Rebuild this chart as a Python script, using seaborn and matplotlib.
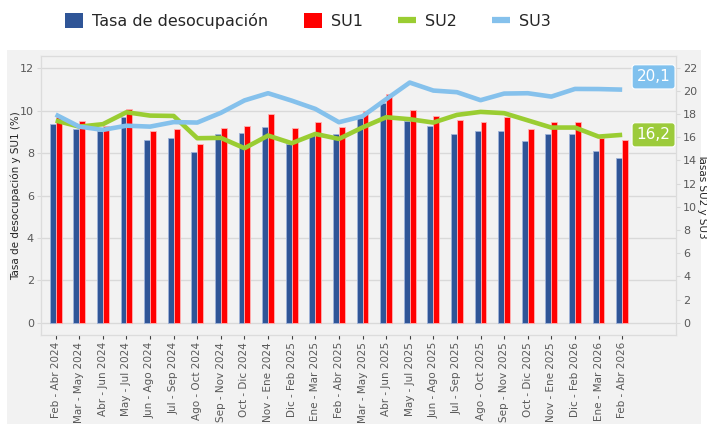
import numpy as np
import pandas as pd
import matplotlib
matplotlib.use("Agg")
import matplotlib.pyplot as plt
import seaborn as sns
from matplotlib.patches import Rectangle, Patch
from matplotlib.lines import Line2D

categories = ["Feb - Abr 2024", "Mar - May 2024", "Abr - Jun 2024", "May - Jul 2024",
              "Jun - Ago 2024", "Jul - Sep 2024", "Ago - Oct 2024", "Sep - Nov 2024",
              "Oct - Dic 2024", "Nov - Ene 2024", "Dic - Feb 2025", "Ene - Mar 2025",
              "Feb - Abr 2025", "Mar - May 2025", "Abr - Jun 2025", "May - Jul 2025",
              "Jun - Ago 2025", "Jul - Sep 2025", "Ago - Oct 2025", "Sep - Nov 2025",
              "Oct - Dic 2025", "Nov - Ene 2025", "Dic - Feb 2026", "Ene - Mar 2026",
              "Feb - Abr 2026"]
tasa = [9.36, 9.16, 9.04, 9.71, 8.62, 8.72, 8.03, 8.89, 8.94, 9.24, 8.45, 8.85, 8.92,
        9.65, 10.34, 9.52, 9.28, 8.91, 9.03, 9.05, 8.56, 8.88, 8.88, 8.09, 7.78]
su1 = [9.70, 9.50, 9.30, 10.07, 9.05, 9.13, 8.41, 9.19, 9.28, 9.85, 9.18, 9.46, 9.21,
       9.98, 10.79, 10.05, 9.74, 9.54, 9.49, 9.69, 9.16, 9.49, 9.47, 8.69, 8.60]
su2 = [17.43, 16.91, 17.12, 18.15, 17.86, 17.83, 15.91, 15.94, 15.05, 16.14, 15.48, 16.28,
       15.85, 16.84, 17.72, 17.55, 17.26, 17.92, 18.18, 18.07, 17.45, 16.83, 16.83, 16.05, 16.2]
su3 = [17.95, 16.91, 16.63, 16.99, 16.91, 17.30, 17.26, 18.10, 19.17, 19.79, 19.15, 18.44,
       17.29, 17.80, 19.27, 20.71, 20.02, 19.88, 19.19, 19.76, 19.79, 19.50, 20.16, 20.15, 20.1]
series_names = ["Tasa de desocupación", "SU1", "SU2", "SU3"]

C_TASA, C_SU1, C_SU2, C_SU3 = "#2f5597", "#ff0000", "#9acd32", "#85c1ec"
GRAY = "#595959"

sns.set_style("white")
plt.rcParams['font.family'] = ['DejaVu Sans']

n = len(categories)
fig = plt.figure(figsize=(7.07, 4.24), dpi=100)
fig.patch.set_facecolor('white')
bg = Rectangle((7/707, 0), (701-7)/707, (424-50)/424, transform=fig.transFigure,
               facecolor='#f2f2f2', edgecolor='none', zorder=-10)
fig.patches.append(bg)

ax = fig.add_axes([41/707, 89/424, (676-41)/707, (335-56)/424])
ax.set_facecolor('#f2f2f2')

df = pd.DataFrame({'cat': categories * 2, 'val': tasa + su1,
                   'serie': [series_names[0]] * n + [series_names[1]] * n})
sns.barplot(data=df, x='cat', y='val', hue='serie', order=categories,
            palette={series_names[0]: C_TASA, series_names[1]: C_SU1},
            width=0.5, saturation=1, errorbar=None, legend=False, ax=ax)
for p in ax.patches:
    fc = p.get_facecolor()
    if fc[0] > 0.9:
        p.set_edgecolor('#ffb3b3')
    else:
        p.set_edgecolor('#9fb3d9')
    p.set_linewidth(0.6)

ax.set_xlim(-0.62, 26.28)
ax.set_ylim(-0.58, 12.58)
ax.set_yticks(range(0, 13, 2))
ax.yaxis.grid(True, color='#d9d9d9', lw=1)
ax.xaxis.grid(False)
ax.set_axisbelow(True)
ax.set_xticks(range(n))
ax.set_xticklabels(categories, rotation=90, fontsize=7.5, color=GRAY)
ax.set_xlabel('')
ax.set_ylabel('Tasa de desocupación y SU1 (%)', fontsize=7.5, color='#262626')
ax.yaxis.set_label_coords((21 - 41) / 635, 0.5)
ax.tick_params(axis='y', labelsize=8, labelcolor=GRAY, length=3, color='#d9d9d9', pad=2, left=True)
ax.tick_params(axis='x', length=3, color='#404040', width=0.8, pad=2, bottom=True)
for s in ax.spines.values():
    s.set_color('#dcdcdc')
    s.set_linewidth(0.8)

ax2 = ax.twinx()
sns.lineplot(x=np.arange(n), y=su2, ax=ax2, color=C_SU2, lw=3.3, solid_capstyle='butt')
sns.lineplot(x=np.arange(n), y=su3, ax=ax2, color=C_SU3, lw=3.3, solid_capstyle='butt')
ax2.set_ylim(-1.06, 23.0)
ax2.set_yticks(range(0, 23, 2))
ax2.grid(False)
ax2.tick_params(axis='y', labelsize=8, labelcolor=GRAY, length=3, color='#d9d9d9', pad=2, right=True)
ax2.set_ylabel('Tasas SU2 y SU3', fontsize=7.5, color='#262626', rotation=270)
ax2.yaxis.label.set_verticalalignment('bottom')
ax2.yaxis.set_label_coords((697 - 41) / 635, 0.5)
for s in ax2.spines.values():
    s.set_color('#dcdcdc')
    s.set_linewidth(0.8)
ax2.set_xlim(-0.62, 26.28)

def fmt(v):
    return f"{v:.1f}".replace('.', ',')

ax2.text(25.33, 21.2, fmt(su3[-1]), ha='center', va='center', color='white', fontsize=11,
         bbox=dict(boxstyle='round,pad=0.3,rounding_size=0.2', fc='#80c1ee', ec='white', lw=0.8))
ax2.text(25.33, su2[-1], fmt(su2[-1]), ha='center', va='center', color='white', fontsize=11,
         bbox=dict(boxstyle='round,pad=0.3,rounding_size=0.2', fc='#9ccb3b', ec='white', lw=0.8))

handles = [Patch(facecolor=C_TASA, edgecolor='none'), Patch(facecolor=C_SU1, edgecolor='none'),
           Line2D([0], [0], color=C_SU2, lw=4.5, solid_capstyle='butt'),
           Line2D([0], [0], color=C_SU3, lw=4.5, solid_capstyle='butt')]
fig.legend(handles, series_names, loc='center', bbox_to_anchor=(308/707, 1 - 21/424), ncol=4,
           frameon=False, fontsize=11.5, handlelength=1.15, handleheight=1.0,
           handletextpad=0.55, columnspacing=2.2)

fig.savefig('out.png', dpi=100)
